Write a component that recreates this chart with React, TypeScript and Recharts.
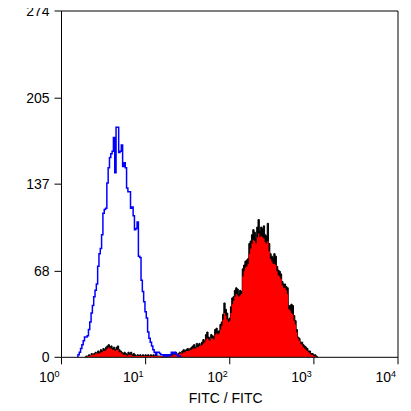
import React from "react";
import { ComposedChart, Area, Line, XAxis, YAxis, ReferenceLine, Label } from "recharts";

// x axis: log channels, 64 channels per decade (10^0 .. 10^4)
const decadeTicks = [0, 64, 128, 192, 256];
const decadeExponents = ["0", "1", "2", "3", "4"];
const countTicks = [0, 68, 137, 205, 274];
const axisTitle = "FITC / FITC";

// blue (control) histogram, counts per channel starting at channel 12
const blueStart = 12;
const blueCounts = [
  0, 2, 4, 7, 10, 13, 16, 16, 17, 22,
  28, 35, 41, 48, 53, 58, 72, 82, 86, 97,
  114, 117, 118, 138, 150, 158, 161, 163, 174, 146,
  182, 182, 162, 163, 168, 151, 154, 150, 134, 131,
  131, 118, 119, 112, 101, 102, 107, 80, 79, 61,
  52, 44, 36, 31, 20, 15, 12, 9, 6, 4,
  2, 4, 4, 3, 2, 2, 1, 2, 1, 2,
  1, 2, 4, 3, 4, 3, 2, 1, 1, 0,
];

// stained sample, raw counts (black outline) starting at channel 18
const redStart = 18;
const redOutlineCounts = [
  0, 1, 1, 2, 1, 3, 2, 3, 4, 3,
  5, 4, 6, 5, 7, 6, 8, 9, 10, 8,
  9, 7, 8, 6, 8, 9, 6, 5, 4, 3,
  4, 3, 2, 4, 3, 4, 2, 3, 2, 1,
  2, 1, 2, 1, 2, 1, 2, 1, 2, 1,
  2, 1, 2, 1, 2, 1, 1, 1, 0, 1,
  0, 1, 0, 1, 1, 2, 1, 3, 2, 4,
  2, 3, 4, 3, 5, 6, 5, 6, 7, 6,
  7, 8, 9, 10, 8, 11, 10, 11, 9, 12,
  14, 13, 18, 20, 16, 14, 18, 17, 16, 22,
  23, 20, 21, 26, 28, 34, 43, 38, 35, 30,
  31, 40, 47, 48, 53, 55, 54, 50, 53, 52,
  70, 73, 76, 77, 78, 90, 92, 97, 101, 99,
  95, 103, 109, 100, 103, 102, 104, 97, 96, 106,
  90, 82, 80, 79, 82, 80, 72, 69, 68, 66,
  60, 58, 58, 56, 55, 41, 41, 42, 41, 33,
  29, 22, 16, 15, 12, 12, 10, 9, 8, 7,
  5, 5, 3, 3, 2, 2, 1, 0,
];

// stained sample, smoothed counts (red fill) starting at channel 18
const redFillCounts = [
  0, 0, 1, 1, 1, 2, 2, 2, 3, 3,
  3, 3, 4, 4, 5, 5, 6, 7, 8, 7,
  7, 6, 6, 5, 6, 6, 4, 4, 3, 2,
  2, 2, 1, 2, 2, 2, 1, 1, 1, 1,
  1, 1, 1, 1, 1, 1, 1, 1, 1, 1,
  1, 1, 1, 1, 1, 1, 1, 1, 1, 1,
  1, 1, 1, 1, 1, 1, 1, 2, 2, 2,
  2, 2, 3, 3, 3, 4, 4, 5, 5, 5,
  6, 6, 7, 7, 7, 8, 8, 9, 9, 10,
  11, 12, 14, 15, 14, 13, 15, 15, 14, 18,
  19, 18, 19, 22, 25, 30, 35, 33, 30, 28,
  29, 35, 42, 45, 48, 50, 49, 48, 49, 50,
  64, 68, 71, 72, 74, 82, 86, 90, 93, 92,
  90, 95, 98, 95, 96, 95, 94, 91, 90, 92,
  84, 78, 76, 74, 74, 73, 68, 65, 64, 62,
  57, 55, 55, 53, 50, 38, 37, 35, 34, 29,
  26, 20, 15, 13, 11, 10, 8, 7, 6, 5,
  4, 3, 2, 2, 1, 1, 0, 0,
];

const pick = (arr: number[], start: number, ch: number) => {
  const i = ch - start;
  return i >= 0 && i < arr.length ? arr[i] : null;
};

const data: { ch: number; blue: number | null; redOutline: number | null; redFill: number | null }[] = [];
for (let ch = 0; ch <= 256; ch++) {
  data.push({
    ch,
    blue: pick(blueCounts, blueStart, ch),
    redOutline: pick(redOutlineCounts, redStart, ch),
    redFill: pick(redFillCounts, redStart, ch),
  });
}

const FONT = "Arial, 'Liberation Sans', sans-serif";

const XTick = (props: any) => {
  const { x, y, payload } = props;
  const idx = decadeTicks.indexOf(payload.value);
  return (
    <text x={x - 2} y={y + 16} textAnchor="end" fontFamily={FONT} fontSize={14} fill="#000">
      10
      <tspan dy={-5} fontSize={9}>
        {decadeExponents[idx]}
      </tspan>
    </text>
  );
};

export default function App() {
  return (
    <div style={{ width: 411, height: 411, margin: -8, background: "#fff" }}>
      <ComposedChart
        width={411}
        height={411}
        data={data}
        margin={{ top: 11, right: 13, bottom: 0, left: 0 }}
      >
        <XAxis
          dataKey="ch"
          type="number"
          domain={[0, 256]}
          ticks={decadeTicks}
          allowDataOverflow
          height={53.7}
          tickSize={7}
          stroke="#000"
          tickLine={{ stroke: "#000" }}
          axisLine={{ stroke: "#000" }}
          tick={<XTick />}
          interval={0}
        >
          <Label
            value={axisTitle}
            position="insideBottom"
            offset={8}
            dx={-4}
            fontSize={14}
            fontFamily={FONT}
            fill="#000"
          />
        </XAxis>
        <YAxis
          type="number"
          domain={[0, 274]}
          ticks={countTicks}
          allowDataOverflow
          width={61.5}
          tickSize={7}
          tickMargin={5}
          stroke="#000"
          tickLine={{ stroke: "#000" }}
          axisLine={{ stroke: "#000" }}
          tick={{ fill: "#000", fontSize: 14, fontFamily: FONT }}
          interval={0}
        />
        <ReferenceLine y={274} stroke="#000" strokeWidth={1} ifOverflow="visible" />
        <ReferenceLine x={256} stroke="#000" strokeWidth={1} ifOverflow="visible" />
        <Area
          dataKey="redOutline"
          type="step"
          stroke="#000"
          strokeWidth={1}
          fill="#000"
          fillOpacity={1}
          isAnimationActive={false}
          dot={false}
          activeDot={false}
        />
        <Area
          dataKey="redFill"
          type="step"
          stroke="none"
          fill="#ff0000"
          fillOpacity={1}
          isAnimationActive={false}
          dot={false}
          activeDot={false}
        />
        <Line
          dataKey="blue"
          type="step"
          stroke="#0000ff"
          strokeWidth={1.5}
          dot={false}
          activeDot={false}
          isAnimationActive={false}
        />
      </ComposedChart>
    </div>
  );
}
